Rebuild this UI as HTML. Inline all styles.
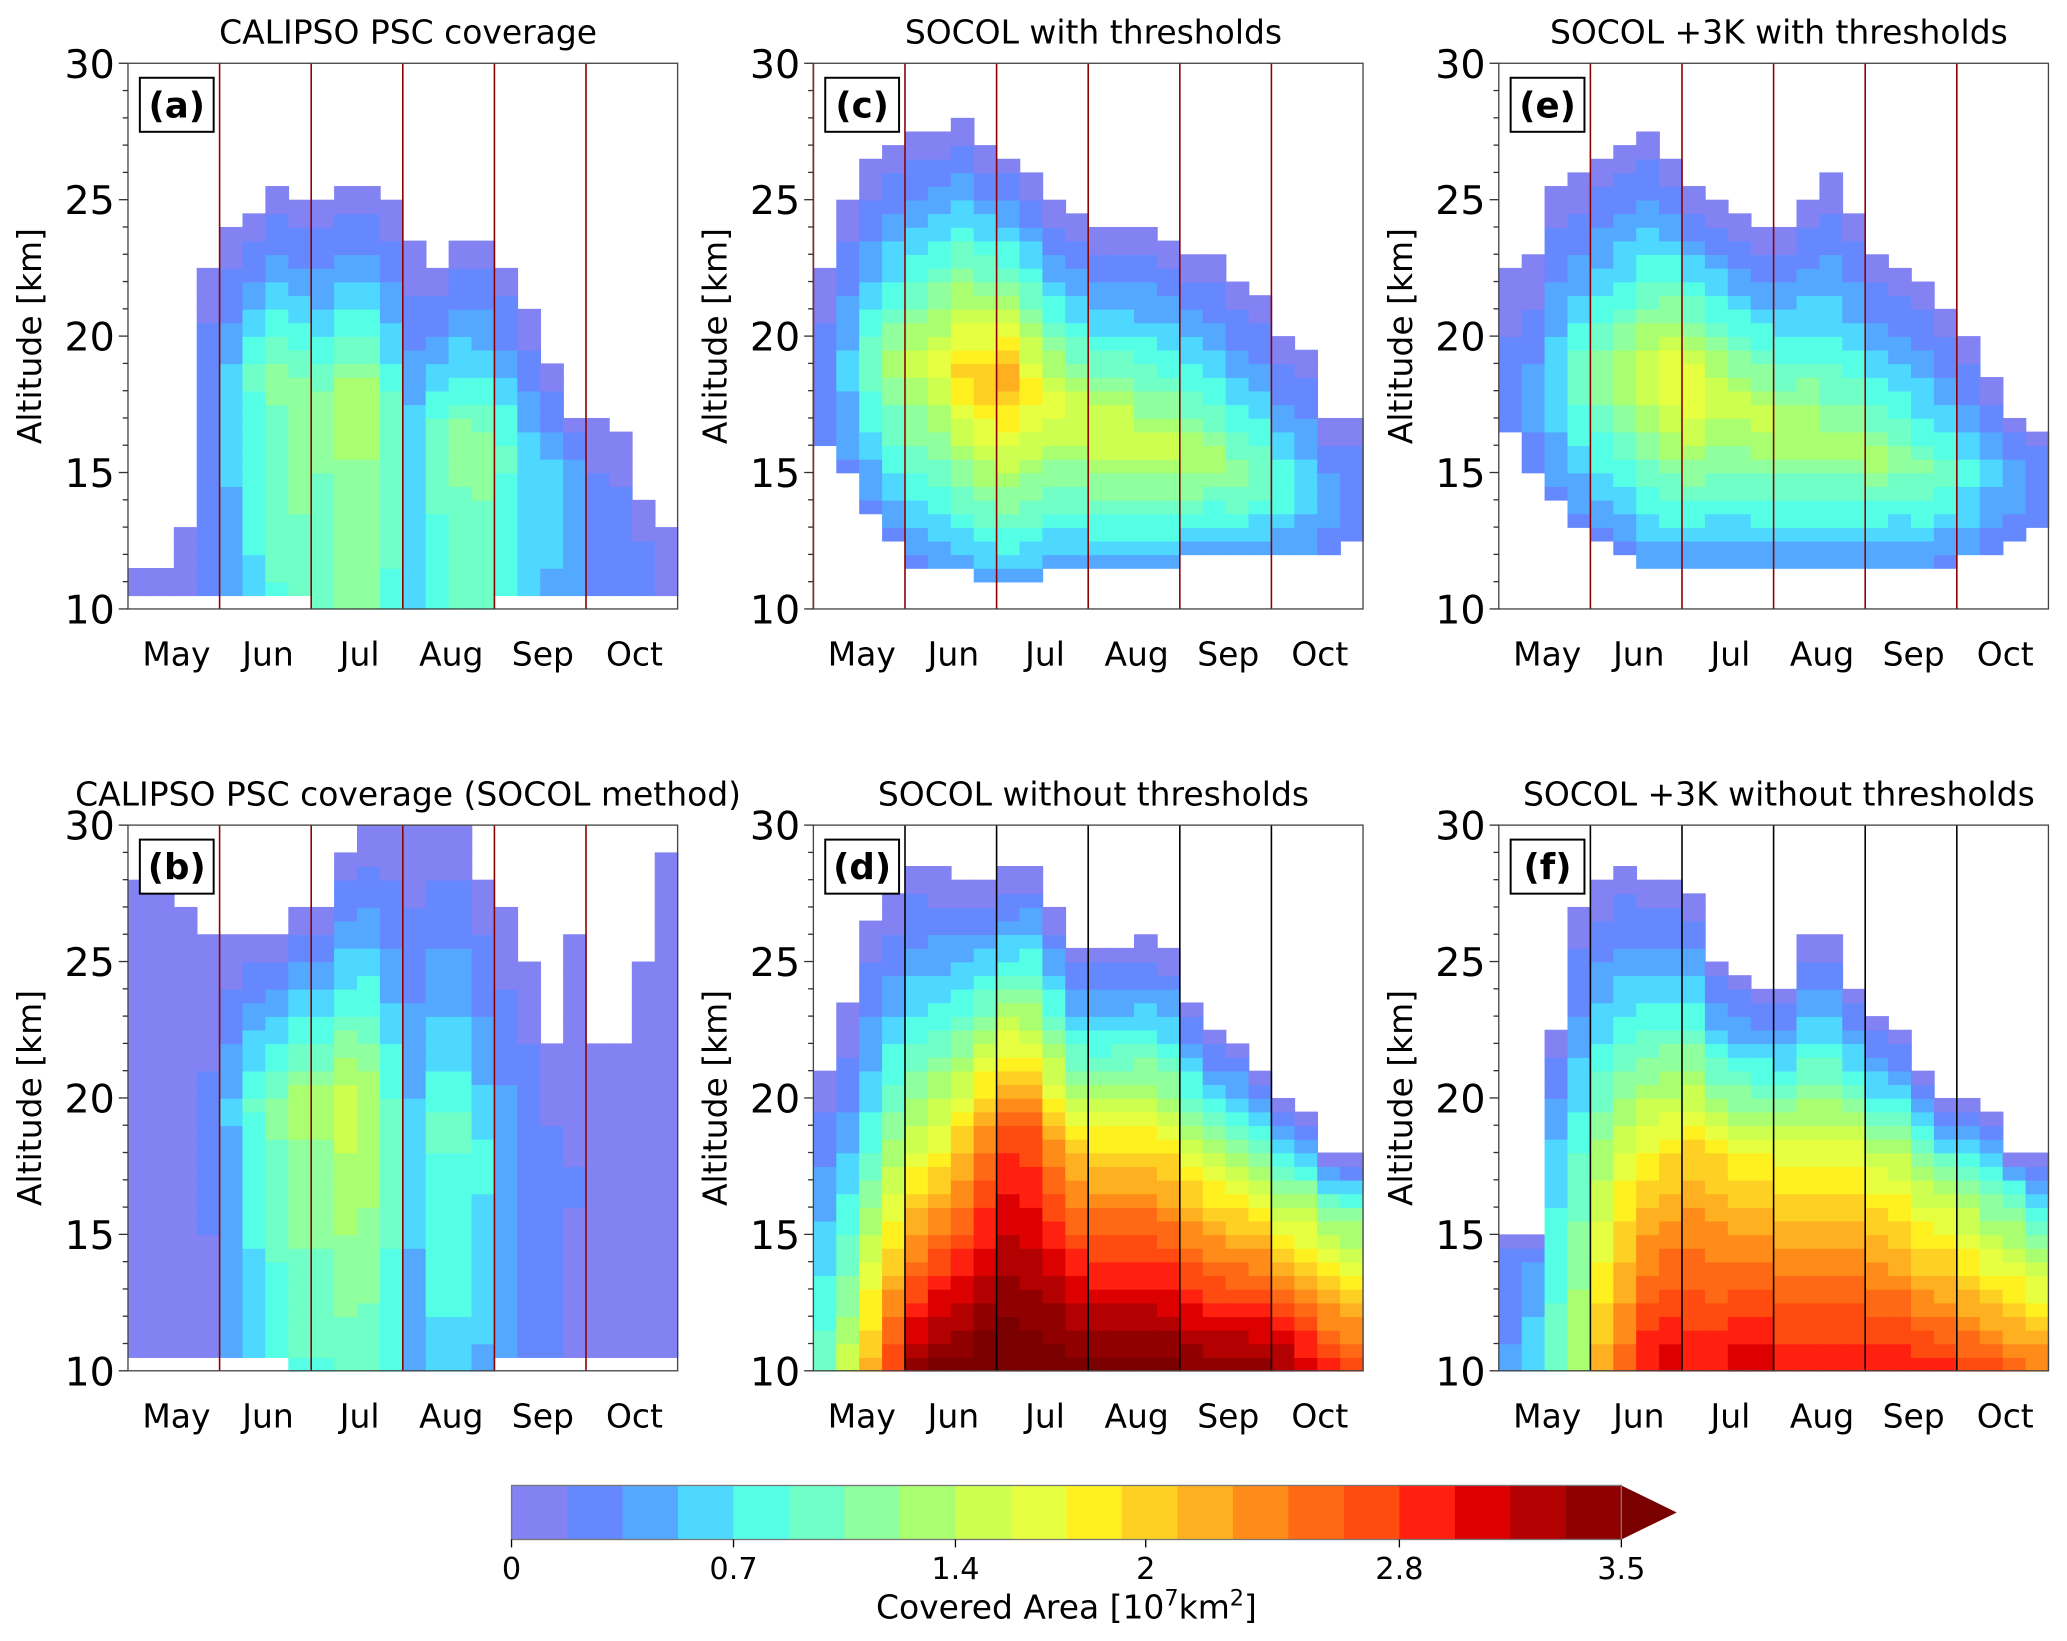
<!DOCTYPE html>
<html><head><meta charset="utf-8"><style>
html,body{margin:0;padding:0;background:#fff;}
svg{display:block;font-family:"DejaVu Sans","Liberation Sans",sans-serif;}
</style></head><body>
<svg id="fig" width="2067" height="1641" viewBox="0 0 1568 1245" xmlns="http://www.w3.org/2000/svg"></svg>
<script>
// ---- data (per quarter-month bin, May..Oct, 24 bins) ----
const months = ["May","Jun","Jul","Aug","Sep","Oct"];
const yTicks = [10,15,20,25,30];
const cbTicks = [0,0.7,1.4,2,2.8,3.5];
const levelColors = ["#8282f2","#6688ff","#55a8ff","#4fd8ff","#55ffe6","#70ffc6","#90ff9e","#aaff70","#ccff50","#e6ff40","#fff020","#ffd024","#ffb020","#ff8c18","#ff6814","#ff4a10","#ff2010","#dd0000","#b30000","#900000"];
const panelTitles = ["CALIPSO PSC coverage","CALIPSO PSC coverage (SOCOL method)","SOCOL with thresholds","SOCOL without thresholds","SOCOL +3K with thresholds","SOCOL +3K without thresholds"];
const panelLetters = ["(a)","(b)","(c)","(d)","(e)","(f)"];

const topA=[11.5,11.5,13,22.5,24,24.5,25.5,25,25,25.5,25.5,25,23.5,22.5,23.5,23.5,22.5,21,19,17,16.8,16.5,14,13];
const botA=[10.5,10.5,10.5,10.5,10.3,10.3,10.3,10.3,10.2,10.2,10.2,10.2,10.2,10.2,10.2,10.2,10.3,10.3,10.3,10.4,10.4,10.5,10.5,10.5];
const cenA=[18,18,18,18,18.5,19,19,18,17.5,18,18,17,16,17,16.5,16,16,15.5,15,15,14,13,12,11.5];
const lowA=[0.1,0.1,0.15,0.25,0.45,0.65,0.85,0.95,0.95,1.05,1.05,0.85,0.65,0.85,0.95,0.95,0.75,0.6,0.5,0.4,0.25,0.25,0.2,0.15];
const midA=[0.1,0.1,0.15,0.35,0.6,0.9,1.1,1.2,1.1,1.3,1.3,1.0,0.7,0.9,1.1,1.1,0.9,0.7,0.6,0.45,0.25,0.25,0.2,0.15];

const topB=[28,29,27,26,26,26,26,27,27,29,30,30,30,30,30,28,27,25,22,26,22,22,25,29];
const botB=[10.3,10.3,10.3,10.3,10.3,10.3,10.3,10.2,10.2,10.2,10.2,10.2,10.2,10.2,10.2,10.2,10.3,10.3,10.3,10.3,10.3,10.3,10.3,10.3];
const cenB=[20,20,20,20,20,20,20,20,20,20,20,19,19,19,19,18,18,18,17,17,17,17,17,17];
const lowB=[0.1,0.1,0.1,0.15,0.35,0.55,0.75,0.85,0.85,0.95,0.95,0.75,0.45,0.65,0.65,0.5,0.35,0.25,0.2,0.15,0.12,0.1,0.1,0.1];
const midB=[0.1,0.1,0.15,0.2,0.55,0.9,1.1,1.3,1.3,1.5,1.4,1.0,0.6,0.9,0.9,0.75,0.5,0.35,0.25,0.18,0.15,0.12,0.1,0.1];

const topC=[22.5,25,26.5,27,27.5,27.5,28,27,26.5,26,25,24.5,24,24,24,23.5,23,23,22,21.5,20,19.5,17,17];
const botC=[16,15,13.5,12.5,11.5,11.5,11.5,11.2,11,11,11.5,11.5,11.5,11.5,11.5,11.5,11.8,11.8,11.8,11.8,11.8,11.8,11.8,12.5];
const cenC=[19,19,19,19,19,19,18.8,18.5,18.5,18,17.5,17,16.5,16.5,16,16,15.5,15.5,15,15,14.5,14.5,14.5,14.5];
const lowC=[0.2,0.3,0.3,0.3,0.3,0.35,0.4,0.4,0.4,0.4,0.4,0.4,0.4,0.4,0.4,0.4,0.4,0.4,0.4,0.35,0.3,0.3,0.25,0.2];
const midC=[0.3,0.6,1.0,1.3,1.5,1.7,2.0,2.1,2.2,1.9,1.7,1.6,1.6,1.6,1.5,1.5,1.4,1.3,1.2,1.1,0.9,0.7,0.5,0.35];

const topD=[21,23.5,26.5,27.5,28.5,28.3,28,28,28.3,28.5,27,25.5,25.5,25.7,26,25.5,23.5,22.5,22.2,21,20,19.5,18,17.8];
const botD=[10,10,10,10,10,10,10,10,10,10,10,10,10,10,10,10,10,10,10,10,10,10,10,10];
const cenD=[18,18,18,18,18,18,18.5,19,19,19,18.5,18,18,18,18,18,17.5,17,17,17,16.5,16.5,16,16];
const lowD=[1.0,1.5,2.2,2.8,3.4,3.6,3.6,3.7,3.7,3.7,3.7,3.6,3.6,3.6,3.6,3.6,3.5,3.5,3.5,3.5,3.4,3.2,3.0,2.8];
const midD=[0.3,0.5,0.9,1.3,1.6,1.8,2.0,2.3,2.7,2.6,2.3,2.1,2.0,2.0,2.0,1.9,1.8,1.7,1.6,1.5,1.3,1.2,1.1,1.0];

const topE=[22.5,23,25.5,26,26.5,27,27.5,26.5,25.5,25,24.5,24,24,25,26,24.5,23,22.5,22,21,20,18.5,17,16.5];
const botE=[16.5,15,14,13,12.5,12,11.7,11.5,11.5,11.5,11.5,11.5,11.5,11.5,11.5,11.5,11.7,11.7,11.7,11.7,11.8,12,12.5,13];
const cenE=[18.5,18.5,18.5,18.5,18.5,18.5,18.5,18.5,18,18,17.5,17,16.5,16.5,16,16,15.5,15.5,15,15,15,15,15,15];
const lowE=[0.2,0.3,0.3,0.3,0.3,0.3,0.35,0.35,0.35,0.35,0.35,0.35,0.35,0.35,0.35,0.35,0.35,0.35,0.35,0.3,0.3,0.25,0.25,0.2];
const midE=[0.25,0.4,0.7,1.0,1.2,1.4,1.6,1.8,1.8,1.6,1.5,1.5,1.4,1.4,1.3,1.3,1.3,1.2,1.1,1.0,0.8,0.6,0.5,0.35];

const topF=[15,15,22.5,27,28,28.5,28,28,27.5,25,24.5,24,24,26,26,24,23,22.5,21,20,20,19.5,18,17.8];
const botF=[10,10,10,10,10,10,10,10,10,10,10,10,10,10,10,10,10,10,10,10,10,10,10,10];
const cenF=[18,18,18,18,18,18,18,18,18,18,18,18,18,18,18,18,17.5,17.5,17,17,17,16.5,16.5,16];
const lowF=[0.4,0.7,1.0,1.4,2.2,2.6,3.0,3.1,3.0,3.0,3.1,3.1,3.0,3.0,3.0,3.0,3.0,3.0,2.9,2.9,2.8,2.7,2.6,2.5];
const midF=[0.2,0.3,0.6,0.9,1.3,1.6,1.8,1.9,2.0,1.9,1.8,1.8,1.7,1.7,1.7,1.7,1.6,1.5,1.4,1.3,1.1,1.0,0.9,0.8];

const panelData=[
 {top:topA,bot:botA,cen:cenA,low:lowA,mid:midA},
 {top:topB,bot:botB,cen:cenB,low:lowB,mid:midB},
 {top:topC,bot:botC,cen:cenC,low:lowC,mid:midC},
 {top:topD,bot:botD,cen:cenD,low:lowD,mid:midD},
 {top:topE,bot:botE,cen:cenE,low:lowE,mid:midE},
 {top:topF,bot:botF,cen:cenF,low:lowF,mid:midF}
];

const NS="http://www.w3.org/2000/svg";
const svg=document.getElementById('fig');
function mk(tag,attrs,parent){const e=document.createElementNS(NS,tag);for(const k in attrs)e.setAttribute(k,attrs[k]);(parent||svg).appendChild(e);return e;}

const colX=[97,617,1137], rowY=[48,626], W=417, H=414;
const layout=[[0,0],[0,1],[1,0],[1,1],[2,0],[2,1]];

function colorFor(v){
  if(v>3.5) return "#7a0000";
  let i=Math.floor(v/0.175); if(i>19)i=19; if(i<0)i=0; return levelColors[i];
}

panelData.forEach((pd,p)=>{
  const x0=colX[layout[p][0]], y0=rowY[layout[p][1]];
  const g=mk('g',{});
  
  
  const xS=t=>x0+t/24*W;
  const yS=z=>y0+H-(z-10)/20*H;
  const nb=pd.top.length;
  for(let b=0;b<nb;b++){
    const top=pd.top[b],bot=pd.bot[b],cen=Math.min(pd.cen[b],top-0.5);
    for(let z=10;z<30;z+=0.5){
      const zc=z+0.25;
      if(zc<bot||zc>top) continue;
      let v;
      if(zc<=cen){const f=(zc-bot)/Math.max(cen-bot,0.5);v=pd.low[b]+(pd.mid[b]-pd.low[b])*f;}
      else{const f=(zc-cen)/Math.max(top-cen,0.5);v=0.08+(pd.mid[b]-0.08)*Math.pow(1-f,1.3);}
      if(v<0.02)v=0.02;
      const r=mk('rect',{x:xS(b).toFixed(2),y:yS(z+0.5).toFixed(2),width:(W/24+0.6).toFixed(2),height:(H/40+0.6).toFixed(2),fill:colorFor(v)},g);
      
      
    }
  }
  const lc=(p===3||p===5)?"#000":"#8b0000";
  for(let m=(p===2?0:1);m<6;m++){
    const l=mk('line',{x1:x0+m*W/6,x2:x0+m*W/6,y1:y0,y2:y0+H,stroke:lc,'stroke-width':1.2},g);
    
    
  }
  const fr=mk('rect',{x:x0,y:y0,width:W,height:H,fill:'none',stroke:'#444','stroke-width':1},g);
  
  
  for(let z=10;z<=30;z++){
    const major=yTicks.includes(z);
    mk('line',{x1:x0,x2:x0-(major?7:4),y1:yS(z),y2:yS(z),stroke:'#333','stroke-width':1},g);
  }
  yTicks.forEach(z=>{
    const t=mk('text',{x:x0-10,y:yS(z)+11,'text-anchor':'end','font-size':30,fill:'#000'},g);
    t.textContent=z;
    
    
  });
  months.forEach((m,i)=>{
    const t=mk('text',{x:x0+(i+0.5)*W/6+2,y:y0+H+43,'text-anchor':'middle','font-size':25,fill:'#000'},g);
    t.textContent=m;
    
    
  });
  const yl=mk('text',{x:0,y:0,transform:`translate(${x0-66},${y0+H/2}) rotate(-90)`,'text-anchor':'middle','font-size':25,fill:'#000'},g);
  yl.textContent='Altitude [km]';
  
  
  const tt=mk('text',{x:x0+W/2+4,y:y0-15,'text-anchor':'middle','font-size':25,fill:'#000'},g);
  tt.textContent=panelTitles[p];
  
  
  const bx=mk('rect',{x:x0+9,y:y0+11,width:56,height:41,fill:'#fff',stroke:'#000','stroke-width':1.5},g);
  
  
  const lt=mk('text',{x:x0+37,y:y0+41,'text-anchor':'middle','font-size':27,'font-weight':'bold',fill:'#000'},g);
  lt.textContent=panelLetters[p];
  
  
});

const cb=mk('g',{});


const cbX0=388,cbX1=1230,cbY=1127,cbH=41;
const cbS=v=>cbX0+v/3.5*(cbX1-cbX0);
levelColors.forEach((c,i)=>{
  const r=mk('rect',{x:cbS(i*0.175),y:cbY,width:(cbX1-cbX0)/20+0.5,height:cbH,fill:c},cb);
  
  
});
const ar=mk('polygon',{points:`${cbX1},${cbY} ${cbX1+42},${cbY+cbH/2} ${cbX1},${cbY+cbH}`,fill:'#7a0000'},cb);


mk('rect',{x:cbX0,y:cbY,width:cbX1-cbX0,height:cbH,fill:'none',stroke:'#777','stroke-width':1},cb);
cbTicks.forEach(v=>{
  mk('line',{x1:cbS(v),x2:cbS(v),y1:cbY+cbH,y2:cbY+cbH+6,stroke:'#000'},cb);
  const t=mk('text',{x:cbS(v),y:cbY+cbH+30,'text-anchor':'middle','font-size':23,fill:'#000'},cb);
  t.textContent=v;
  
  
});
const cl=mk('text',{x:(cbX0+cbX1)/2,y:1228,'text-anchor':'middle','font-size':25,fill:'#000'},cb);
cl.innerHTML='Covered Area [10<tspan dy="-10" font-size="17">7</tspan><tspan dy="10">km</tspan><tspan dy="-10" font-size="17">2</tspan><tspan dy="10">]</tspan>';


</script>
</body></html>
